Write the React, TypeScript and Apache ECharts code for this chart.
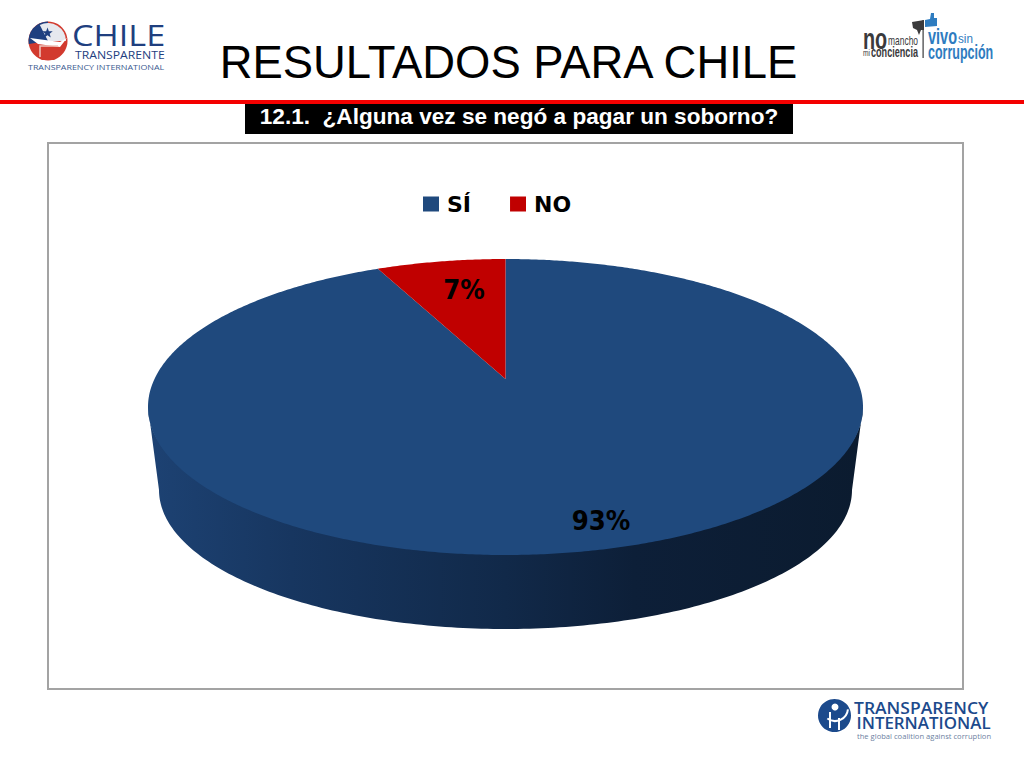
import React, { useEffect, useRef } from "react";
import * as echarts from "echarts";

const categories = ["SÍ", "NO"];
const sliceValues = [93, 7];
const sliceColors = ["#1f497d", "#c00000"];
const labelCenters = [[601, 521], [464, 290]];

const TITLE = "RESULTADOS PARA CHILE";
const SUBTITLE = "12.1.  ¿Alguna vez se negó a pagar un soborno?";

// Perspective disc: the top is an ellipse whose projected centre sits above the ellipse centre.
const CX = 505.5, CY = 407, RX = 357.5, RY = 148, APEX = 28;
const K = APEX / RY;
const A = RX * Math.sqrt(1 - K * K);
const BOTTOM_CY = 490, BOTTOM_RX = 346.5, BOTTOM_RY = 139;

function project(theta: number): number[] {
  const u = Math.sin(theta), v = Math.cos(theta);
  const d = 1 + K * v;
  return [CX + (A * u) / d, CY - (RY * v + APEX) / d];
}

function wedgePoints(from: number, to: number): number[][] {
  const pts: number[][] = [[CX, CY - APEX]];
  const steps = Math.max(4, Math.ceil((to - from) / (Math.PI / 360)));
  for (let i = 0; i <= steps; i++) pts.push(project(from + ((to - from) * i) / steps));
  return pts;
}

// The upper edge runs a little inside the top face, so no pale seam shows between the two.
function sidePoints(): number[][] {
  const pts: number[][] = [];
  for (let d = 0; d <= 180; d += 1) {
    const t = (d * Math.PI) / 180;
    pts.push([CX + RX * Math.cos(t), CY + (RY - 6) * Math.sin(t)]);
  }
  for (let d = 180; d >= 0; d -= 1) {
    const t = (d * Math.PI) / 180;
    pts.push([CX + BOTTOM_RX * Math.cos(t), BOTTOM_CY + BOTTOM_RY * Math.sin(t)]);
  }
  return pts;
}

const LABEL_FONT = "DejaVu Sans";
const NAVY = "#1f3f7f";
const TI_BLUE = "#1c4a8c";
const DARK = "#3a3a3c";
const SKY = "#2e7cc0";
const ARIAL = "Liberation Sans";

function star(cx: number, cy: number, r: number): number[][] {
  const out: number[][] = [];
  for (let i = 0; i < 10; i++) {
    const a = -Math.PI / 2 + (i * Math.PI) / 5;
    const rr = i % 2 ? r * 0.42 : r;
    out.push([cx + rr * Math.cos(a), cy + rr * Math.sin(a)]);
  }
  return out;
}

function logoText(text: string, x: number, y: number, size: number, fill: string, font: string, weight = "normal", scaleX = 1) {
  return {
    type: "text",
    x,
    y,
    scaleX,
    silent: true,
    style: { text, x: 0, y: 0, fill, fontFamily: font, fontSize: size, fontWeight: weight, verticalAlign: "middle", align: "left" },
  };
}

function buildGraphics() {
  return [
    // frame
    { type: "rect", shape: { x: 48, y: 143, width: 915, height: 546 }, style: { fill: "#ffffff", stroke: "#a3a3a3", lineWidth: 2 }, z: -10 },
    // red rule
    { type: "rect", shape: { x: 0, y: 100, width: 1024, height: 4 }, style: { fill: "#f40000" } },
    // subtitle band
    { type: "rect", shape: { x: 245, y: 104, width: 548, height: 30 }, style: { fill: "#000000" } },
    { type: "text", x: 519, y: 116, style: { text: SUBTITLE, fill: "#ffffff", fontFamily: ARIAL, fontWeight: "bold", fontSize: 22.6, align: "center", verticalAlign: "middle" } },
    { type: "text", x: 508.5, y: 62, style: { text: TITLE, fill: "#000000", fontFamily: ARIAL, fontSize: 45.4, align: "center", verticalAlign: "middle" } },

    // Chile Transparente emblem
    { type: "circle", shape: { cx: 48, cy: 41, r: 19.5 }, style: { fill: "#d23a2e" } },
    { type: "sector", shape: { cx: 48, cy: 41, r: 19.5, r0: 0, startAngle: Math.PI * 0.95, endAngle: Math.PI * 1.5 }, style: { fill: NAVY } },
    { type: "sector", shape: { cx: 48, cy: 41, r: 18, r0: 0, startAngle: Math.PI * 1.35, endAngle: Math.PI * 2 }, style: { fill: "#e6e8ee" } },
    { type: "polygon", shape: { points: star(47.5, 33, 5.5) }, style: { fill: NAVY } },
    { type: "polygon", shape: { points: [[30, 38], [60, 42], [67, 38], [60, 47], [38, 44]] }, style: { fill: "#ffffff" } },
    { type: "polyline", shape: { points: [[40, 57], [40, 46], [58, 46]] }, style: { stroke: "#f0c8c0", lineWidth: 1.5, fill: "none" } },
    logoText("CHILE", 72, 35, 29, NAVY, "Open Sans", "normal", 1.18),
    logoText("TRANSPARENTE", 75, 54, 11.5, NAVY, "Open Sans", "normal", 1.06),
    logoText("TRANSPARENCY INTERNATIONAL", 28, 67, 8, "#3a5a90", "Open Sans", "normal", 1.11),

    // No mancho / Vivo sin logo
    logoText("no", 863, 38, 30, DARK, ARIAL, "bold", 0.66),
    logoText("mancho", 888, 40, 13, DARK, ARIAL, "normal", 0.65),
    logoText("mi", 863, 53, 9, DARK, ARIAL, "normal", 0.74),
    logoText("conciencia", 871, 52, 14, DARK, ARIAL, "bold", 0.65),
    { type: "rect", shape: { x: 922.5, y: 20, width: 1.2, height: 38 }, style: { fill: DARK } },
    { type: "polygon", shape: { points: [[912, 22], [924, 20], [924, 30], [921, 30], [919, 35], [917, 30], [913, 28]] }, style: { fill: DARK } },
    { type: "polygon", shape: { points: [[925, 20], [930, 19], [931, 13], [934, 13], [934, 18], [937, 18], [937, 26], [925, 27]] }, style: { fill: SKY } },
    logoText("vivo", 928, 36, 22, SKY, ARIAL, "bold", 0.66),
    logoText("sin", 958, 39, 13, SKY, ARIAL, "normal", 0.9),
    logoText("corrupción", 928, 52, 20, SKY, ARIAL, "bold", 0.625),

    // Transparency International logo
    { type: "circle", shape: { cx: 834.5, cy: 715.5, r: 16.5 }, style: { fill: TI_BLUE } },
    { type: "circle", shape: { cx: 835, cy: 707, r: 3.5 }, style: { fill: "#ffffff" } },
    { type: "arc", shape: { cx: 835, cy: 708, r: 13, startAngle: 0.1, endAngle: 2.2 }, style: { stroke: "#ffffff", lineWidth: 2, fill: "none" } },
    { type: "rect", shape: { x: 829, y: 712, width: 2, height: 16 }, style: { fill: "#ffffff" } },
    { type: "rect", shape: { x: 838, y: 718, width: 2, height: 12 }, style: { fill: "#ffffff" } },
    logoText("TRANSPARENCY", 854, 708, 15.5, TI_BLUE, "Open Sans", "600", 1.13),
    logoText("INTERNATIONAL", 856.5, 723.5, 15.5, TI_BLUE, "Open Sans", "600", 1.09),
    logoText("the global coalition against corruption", 857, 736, 7.6, "#6d7f9f", "Open Sans"),
  ];
}

function makeSeries(index: number) {
  const total = sliceValues.reduce((a, b) => a + b, 0);
  const before = sliceValues.slice(0, index).reduce((a, b) => a + b, 0);
  return {
    type: "custom",
    name: categories[index],
    coordinateSystem: "none",
    silent: true,
    itemStyle: { color: sliceColors[index] },
    data: [[sliceValues[index]]],
    renderItem: (_p: any, api: any) => {
      const value = api.value(0);
      const from = (before / total) * Math.PI * 2;
      const to = ((before + value) / total) * Math.PI * 2;
      const children: any[] = [];
      if (index === 0) {
        children.push({
          type: "polygon",
          shape: { points: sidePoints() },
          style: {
            fill: new echarts.graphic.LinearGradient(0, 0, 1, 0, [
              { offset: 0, color: "#1d4273" },
              { offset: 0.2, color: "#173660" },
              { offset: 0.5, color: "#112949" },
              { offset: 0.68, color: "#0d1f38" },
              { offset: 1, color: "#0b1b2f" },
            ]),
          },
        });
      }
      children.push({ type: "polygon", shape: { points: wedgePoints(from, to) }, style: { fill: sliceColors[index] } });
      const [lx, ly] = labelCenters[index];
      children.push({
        type: "text",
        x: lx,
        y: ly,
        scaleY: 1.1,
        z2: 10,
        style: { text: `${value}%`, fill: "#000000", fontFamily: LABEL_FONT, fontWeight: "bold", fontSize: 24.5, align: "center", verticalAlign: "middle" },
      });
      return { type: "group", children };
    },
  };
}

export default function App() {
  const ref = useRef<HTMLDivElement>(null);
  useEffect(() => {
    document.body.style.margin = "0";
    const chart = echarts.init(ref.current!, undefined, { renderer: "svg" });
    chart.setOption({
      animation: false,
      backgroundColor: "#ffffff",
      legend: {
        left: 418,
        top: 188,
        itemWidth: 16,
        itemHeight: 15,
        itemGap: 39,
        icon: "rect",
        selectedMode: false,
        data: categories,
        textStyle: { color: "#000000", fontFamily: LABEL_FONT, fontWeight: "bold", fontSize: 22, padding: [0, 0, 0, 3] },
      },
      graphic: { elements: buildGraphics() },
      series: categories.map((_c, i) => makeSeries(i)),
    });
    return () => chart.dispose();
  }, []);
  return <div ref={ref} style={{ width: 1024, height: 768 }} />;
}
